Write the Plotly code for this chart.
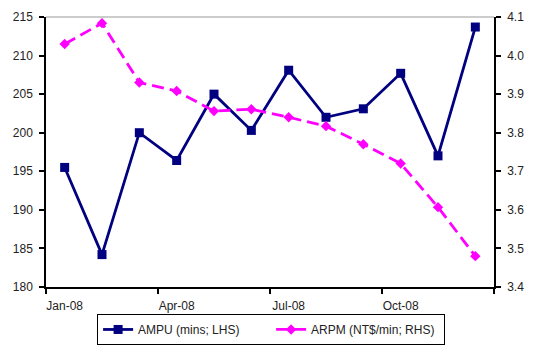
import plotly.graph_objects as go

months = ["Jan-08", "Feb-08", "Mar-08", "Apr-08", "May-08", "Jun-08",
          "Jul-08", "Aug-08", "Sep-08", "Oct-08", "Nov-08", "Dec-08"]
ampu = [195.5, 184.2, 200.0, 196.4, 205.0, 200.3, 208.1, 202.0, 203.1, 207.7, 197.0, 213.7]
arpm = [4.03, 4.084, 3.93, 3.908, 3.856, 3.861, 3.84, 3.817, 3.77, 3.72, 3.607, 3.48]
xlabel_idx = [0, 3, 6, 9]

x = list(range(len(months)))
font = dict(family="Liberation Sans, Arial, sans-serif", size=12, color="#222222")

fig = go.Figure()
fig.add_trace(go.Scatter(
    x=x, y=ampu, name="AMPU (mins; LHS)", mode="lines+markers",
    line=dict(color="#000080", width=2.8),
    marker=dict(symbol="square", size=9, color="#000080"),
    yaxis="y"))
fig.add_trace(go.Scatter(
    x=x, y=arpm, name="ARPM (NT$/min; RHS)", mode="lines+markers",
    line=dict(color="#FF00FF", width=2.8, dash="12px,6px"),
    marker=dict(symbol="diamond", size=8, color="#FF00FF"),
    yaxis="y2"))

fig.update_layout(
    width=521, height=339,
    margin=dict(l=38, r=35, t=9, b=60),
    paper_bgcolor="white", plot_bgcolor="white",
    font=font,
    showlegend=True,
    legend=dict(orientation="h", xref="container", yref="container",
                x=0.505, xanchor="center", y=0.006, yanchor="bottom",
                bordercolor="#000000", borderwidth=1, font=dict(size=12, color="#222222"),
                tracegroupgap=0, entrywidth=128, entrywidthmode="pixels"),
    xaxis=dict(range=[-0.5, 11.5], tickvals=xlabel_idx, automargin=False,
               ticktext=[months[i] for i in xlabel_idx],
               ticks="", showgrid=False, zeroline=False, ticklabelstandoff=7,
               showline=True, linecolor="#000000", linewidth=1.5,
               minor=dict(tickvals=[-0.5, 2.5, 5.5, 8.5, 11.5], ticks="outside",
                          ticklen=5, tickwidth=1.5, tickcolor="#000000", showgrid=False),
               mirror=False),
    yaxis=dict(range=[180, 215], dtick=5, ticks="outside", ticklen=5, tickwidth=1.5,
               tickcolor="#000000", showline=True, linecolor="#000000", linewidth=1.5,
               showgrid=False, zeroline=False, ticklabelstandoff=4, automargin=False),
    yaxis2=dict(range=[3.4, 4.1], dtick=0.1, tickformat=".1f", overlaying="y", side="right",
                ticks="outside", ticklen=5, tickwidth=1.5, tickcolor="#000000",
                showline=True, linecolor="#000000", linewidth=1.5, automargin=False,
                showgrid=False, zeroline=False, ticklabelstandoff=4),
    shapes=[dict(type="line", xref="paper", yref="paper", x0=0, x1=1, y0=1, y1=1,
                 line=dict(color="#999999", width=1))],
)

fig.write_html("out.html")
